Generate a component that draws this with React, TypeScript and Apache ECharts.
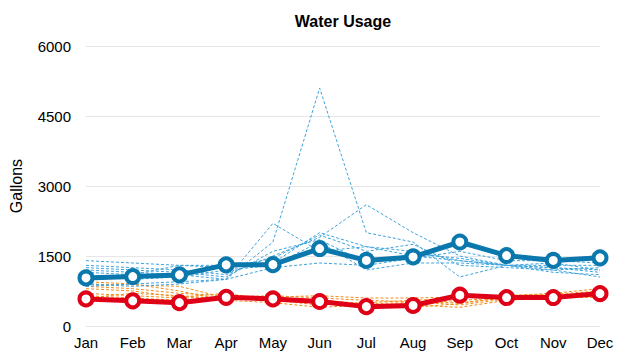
import React, { useEffect, useRef } from "react";
import * as echarts from "echarts";

const months = ["Jan", "Feb", "Mar", "Apr", "May", "Jun", "Jul", "Aug", "Sep", "Oct", "Nov", "Dec"];
const yTicks = [0, 1500, 3000, 4500, 6000];

const mainBlue = [1030, 1060, 1095, 1310, 1315, 1660, 1405, 1480, 1800, 1510, 1405, 1460];
const mainRed = [580, 540, 500, 615, 580, 525, 415, 440, 660, 610, 610, 695];

const blueThin1 = [850, 900, 950, 1000, 1800, 5100, 2000, 1800, 1050, 1300, 1250, 1200];
const blueThin2 = [1300, 1250, 1200, 1100, 1500, 1900, 2600, 2000, 1500, 1300, 1200, 1050];
const blueThin3 = [1200, 1150, 1100, 1000, 2200, 1600, 1700, 1600, 1400, 1300, 1250, 1150];
const blueThin4 = [1400, 1350, 1300, 1300, 1350, 2000, 1700, 1500, 1400, 1300, 1300, 1300];
const blueThin5 = [1150, 1100, 1300, 1250, 1450, 1950, 1600, 1750, 1300, 1250, 1200, 1250];
const blueThin6 = [900, 850, 900, 1000, 1250, 1350, 1300, 1450, 1600, 1400, 1400, 1350];
const blueThin7 = [1100, 1000, 1050, 1200, 1300, 1800, 1200, 1350, 1350, 1300, 1150, 1100];
const blueThin8 = [1250, 1200, 1150, 1050, 1600, 1850, 1350, 1550, 1450, 1300, 1350, 1200];

const orangeThin1 = [900, 880, 850, 600, 550, 450, 500, 550, 600, 650, 700, 800];
const orangeThin2 = [850, 800, 700, 650, 600, 550, 480, 500, 500, 600, 650, 700];
const orangeThin3 = [950, 900, 750, 550, 500, 400, 450, 480, 550, 600, 620, 650];
const orangeThin4 = [700, 650, 600, 620, 650, 600, 550, 520, 450, 580, 600, 620];
const orangeThin5 = [600, 700, 650, 580, 620, 650, 600, 600, 620, 650, 680, 750];
const orangeThin6 = [800, 750, 620, 700, 550, 500, 420, 450, 400, 550, 620, 700];
const orangeThin7 = [650, 600, 550, 600, 580, 520, 460, 400, 480, 620, 650, 600];

const blueThins = [blueThin1, blueThin2, blueThin3, blueThin4, blueThin5, blueThin6, blueThin7, blueThin8];
const orangeThins = [orangeThin1, orangeThin2, orangeThin3, orangeThin4, orangeThin5, orangeThin6, orangeThin7];

export default function App() {
  const ref = useRef<HTMLDivElement>(null);
  useEffect(() => {
    if (!ref.current) return;
    const chart = echarts.init(ref.current, null, { renderer: "svg" });
    const font = "'Liberation Sans', Arial, Helvetica, sans-serif";
    const thin = (data: number[], color: string) => ({
      type: "line",
      data,
      symbol: "none",
      silent: true,
      lineStyle: { color, width: 1, type: [3, 2] },
      z: 1,
    });
    const thick = (data: number[], color: string) => ({
      type: "line",
      data,
      symbol: "circle",
      symbolSize: 13,
      itemStyle: { color: "#ffffff", borderColor: color, borderWidth: 4 },
      lineStyle: { color, width: 5 },
      z: 5,
    });
    chart.setOption({
      animation: false,
      textStyle: { fontFamily: font },
      title: {
        text: "Water Usage",
        left: 338,
        textAlign: "center",
        top: 8,
        textStyle: { fontFamily: font, fontWeight: "bold", fontSize: 16, color: "#000" },
      },
      grid: { left: 86, right: 22, top: 46, bottom: 34 },
      xAxis: {
        type: "category",
        data: months,
        boundaryGap: false,
        axisLine: { show: false },
        axisTick: { show: false },
        axisLabel: { color: "#000", fontSize: 15, fontFamily: font, margin: 9 },
      },
      yAxis: {
        type: "value",
        min: yTicks[0],
        max: yTicks[yTicks.length - 1],
        interval: 1500,
        name: "Gallons",
        nameLocation: "middle",
        nameGap: 62,
        nameTextStyle: { color: "#000", fontSize: 16, fontFamily: font },
        axisLine: { show: false },
        axisTick: { show: false },
        axisLabel: {
          color: "#000",
          fontSize: 15,
          fontFamily: font,
          margin: 15,
          formatter: (v: number) => String(v),
        },
        splitLine: { lineStyle: { color: "#e6e6e6", width: 1 } },
      },
      series: [
        ...orangeThins.map((d) => thin(d, "#f08c1a")),
        ...blueThins.map((d) => thin(d, "#3ea3dc")),
        thick(mainRed, "#df0018"),
        thick(mainBlue, "#0a78ac"),
      ],
    });
    return () => chart.dispose();
  }, []);
  return <div ref={ref} style={{ width: 622, height: 360, position: "absolute", left: 0, top: 0 }} />;
}
